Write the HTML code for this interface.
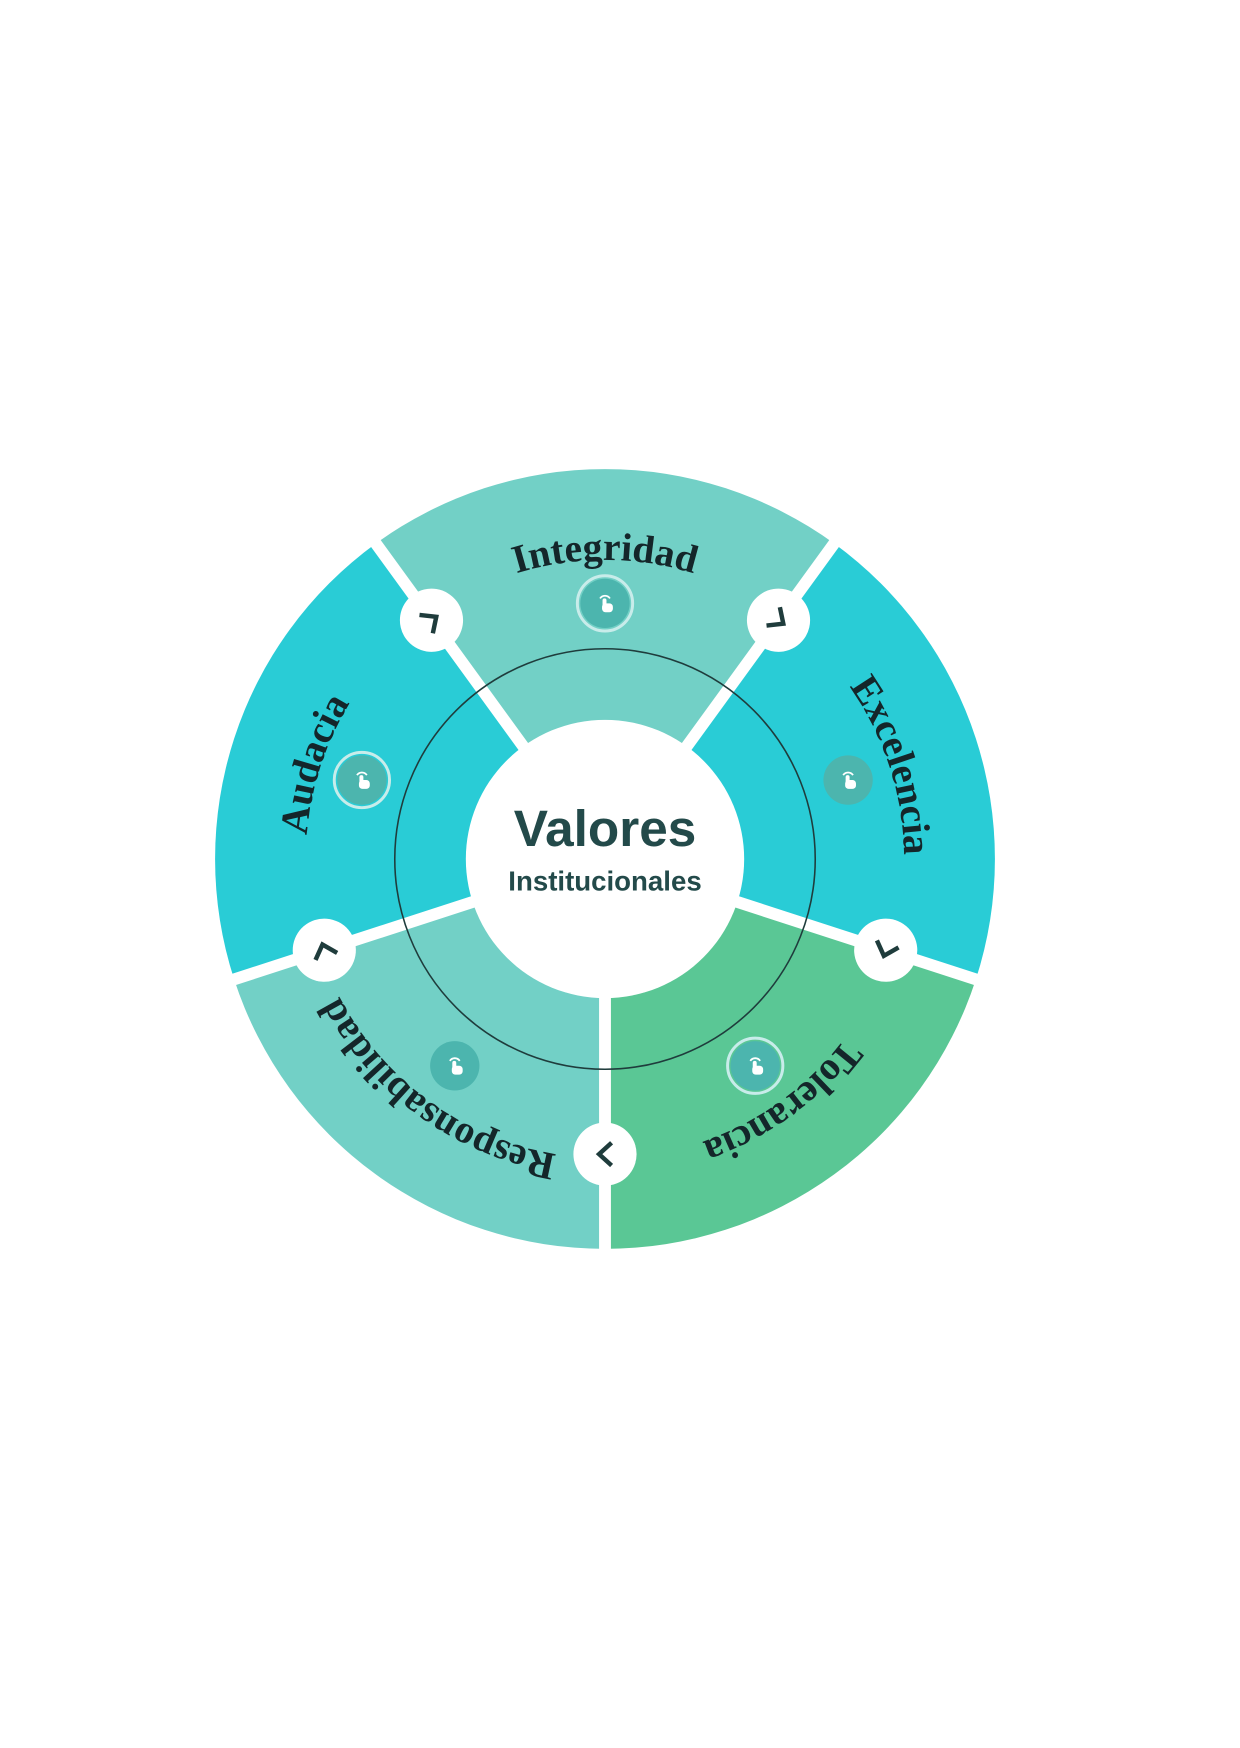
<!DOCTYPE html>
<html><head><meta charset="utf-8"><style>
html,body{margin:0;padding:0;background:#fff;}
svg{display:block;}
</style></head><body>
<svg width="1240" height="1748" viewBox="0 0 1240 1748" xmlns="http://www.w3.org/2000/svg">
<defs>
<path id="arc" d="M349.6,716.5 A303,303 0 0 1 874.4,716.5"/>
<g id="hand">
<circle r="25" fill="#4cb5ae"/>
<path d="M-5,-5 A6,6 0 0 1 5,-5" fill="none" stroke="#fff" stroke-width="1.8"/>
<rect x="-2.5" y="-5" width="4" height="10" rx="2" fill="#fff"/>
<rect x="-3" y="0" width="11" height="9" rx="3.5" fill="#fff"/>
</g>
<g id="chev">
<circle r="32" fill="#fff"/>
<polyline points="-5,-10 6,0 -5,10" fill="none" stroke="#1f3c3c" stroke-width="4.5" stroke-linecap="square" stroke-linejoin="miter"/>
</g>
</defs>
<g transform="translate(605,859) scale(0.987) translate(-612,-868)">
<path d="M612,868 L379.8,548.4 A395,395 0 0 1 844.2,548.4 Z" fill="#72d0c6"/>
<path d="M612,868 L844.2,548.4 A395,395 0 0 1 987.7,990.1 Z" fill="#29ccd6"/>
<path d="M612,868 L987.7,990.1 A395,395 0 0 1 612,1263 Z" fill="#5ac795"/>
<path d="M612,868 L612,1263 A395,395 0 0 1 236.3,990.1 Z" fill="#72d0c6"/>
<path d="M612,868 L236.3,990.1 A395,395 0 0 1 379.8,548.4 Z" fill="#29ccd6"/>
<g stroke="#fff" stroke-width="12">
<line x1="612" y1="868" x2="848" y2="543"/>
<line x1="612" y1="868" x2="994" y2="992"/>
<line x1="612" y1="868" x2="612" y2="1270"/>
<line x1="612" y1="868" x2="230" y2="992"/>
<line x1="612" y1="868" x2="376" y2="543"/>
</g>
<circle cx="612" cy="868" r="213" fill="none" stroke="#1f3c3c" stroke-width="1.6"/>
<circle cx="612" cy="868" r="141" fill="#fff"/>
<use href="#chev" transform="translate(436.2,626.1) rotate(-36)"/>
<use href="#chev" transform="translate(787.8,626.1) rotate(36)"/>
<use href="#chev" transform="translate(896.4,960.4) rotate(108)"/>
<use href="#chev" transform="translate(612,1167) rotate(180)"/>
<use href="#chev" transform="translate(327.6,960.4) rotate(252)"/>
<g transform="translate(612,609)"><circle r="28" fill="none" stroke="#c8ecea" stroke-width="3"/><use href="#hand"/></g>
<g transform="translate(858.3,788)"><use href="#hand"/></g>
<g transform="translate(764.2,1077.5)"><circle r="28" fill="none" stroke="#c8ecea" stroke-width="3"/><use href="#hand"/></g>
<g transform="translate(459.8,1077.5)"><use href="#hand"/></g>
<g transform="translate(365.7,788)"><circle r="28" fill="none" stroke="#c8ecea" stroke-width="3"/><use href="#hand"/></g>
<g font-family="'Liberation Serif',serif" font-weight="bold" font-size="40" fill="#14262a">
<text><textPath href="#arc" startOffset="50%" text-anchor="middle">Integridad</textPath></text>
<g transform="rotate(72 612 868)"><text><textPath href="#arc" startOffset="50%" text-anchor="middle">Excelencia</textPath></text></g>
<g transform="rotate(144 612 868)"><text><textPath href="#arc" startOffset="50%" text-anchor="middle">Tolerancia</textPath></text></g>
<g transform="rotate(216 612 868)"><text><textPath href="#arc" startOffset="50%" text-anchor="middle">Responsabilidad</textPath></text></g>
<g transform="rotate(288 612 868)"><text><textPath href="#arc" startOffset="50%" text-anchor="middle">Audacia</textPath></text></g>
</g>
<text x="612" y="855" text-anchor="middle" font-family="'Liberation Sans',sans-serif" font-weight="bold" font-size="52" fill="#234a4a">Valores</text>
<text x="612" y="900" text-anchor="middle" font-family="'Liberation Sans',sans-serif" font-weight="bold" font-size="28" fill="#234a4a">Institucionales</text>
</g>
</svg>
</body></html>
